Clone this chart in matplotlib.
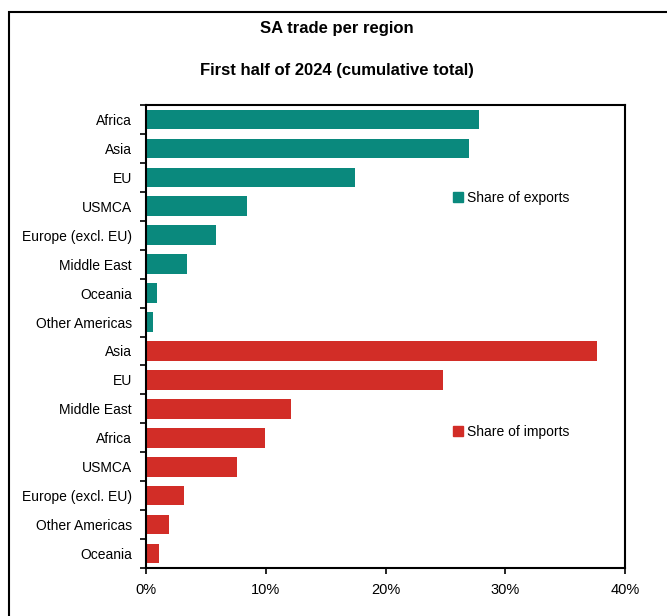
import matplotlib.pyplot as plt
from matplotlib.patches import Patch, Rectangle
from matplotlib.ticker import FixedLocator, PercentFormatter

plt.rcParams['font.family'] = ['Liberation Sans', 'DejaVu Sans']

# data (% share)
export_regions = ['Africa', 'Asia', 'EU', 'USMCA', 'Europe (excl. EU)', 'Middle East',
                  'Oceania', 'Other Americas']
export_share = [27.8, 27.0, 17.45, 8.4, 5.85, 3.4, 0.9, 0.6]
import_regions = ['Asia', 'EU', 'Middle East', 'Africa', 'USMCA', 'Europe (excl. EU)',
                  'Other Americas', 'Oceania']
import_share = [37.7, 24.8, 12.1, 9.9, 7.6, 3.2, 1.9, 1.1]

teal = '#0a897d'
red = '#d22d27'

labels = export_regions + import_regions
values = export_share + import_share
colors = [teal] * len(export_share) + [red] * len(import_share)
pos = list(range(len(labels)))

fig = plt.figure(figsize=(6.67, 6.16), dpi=100)
ax = fig.add_axes([146/667, 1 - 568/616, (625-146)/667, (568-105)/616])

ax.barh(pos, values, height=0.68, color=colors)
ax.set_ylim(len(labels) - 0.5, -0.5)
ax.set_xlim(0, 40)
ax.set_yticks(pos)
ax.set_yticklabels(labels, fontsize=10)
ax.yaxis.set_minor_locator(FixedLocator([p - 0.5 for p in pos] + [len(labels) - 0.5]))
ax.tick_params(axis='y', which='major', length=0, pad=10)
ax.tick_params(axis='y', which='minor', length=4, width=1.2, direction='out')
ax.set_xticks([0, 10, 20, 30, 40])
ax.xaxis.set_major_formatter(PercentFormatter(decimals=0))
ax.tick_params(axis='x', length=4, width=1.2, labelsize=10.5, pad=7)
for s in ax.spines.values():
    s.set_linewidth(1.5)

leg1 = ax.legend(handles=[Patch(color=teal, label='Share of exports')],
                 loc='center left', bbox_to_anchor=(0.63, 1 - (198-105)/463),
                 frameon=False, fontsize=10, handlelength=0.7, handleheight=0.7,
                 handletextpad=0.3, borderaxespad=0)
ax.add_artist(leg1)
ax.legend(handles=[Patch(color=red, label='Share of imports')],
          loc='center left', bbox_to_anchor=(0.63, 1 - (432-105)/463),
          frameon=False, fontsize=10, handlelength=0.7, handleheight=0.7,
          handletextpad=0.3, borderaxespad=0)

fig.text(0.505, 1 - 28/616, 'SA trade per region', ha='center', va='center',
         fontsize=12, fontweight='bold')
fig.text(0.505, 1 - 70/616, 'First half of 2024 (cumulative total)', ha='center',
         va='center', fontsize=12, fontweight='bold')

fig.patches.append(Rectangle((9/667, -0.1), 1.2, 1.1 - 12/616, transform=fig.transFigure,
                             fill=False, edgecolor='black', linewidth=1.5))

fig.savefig('out.png', dpi=100)
